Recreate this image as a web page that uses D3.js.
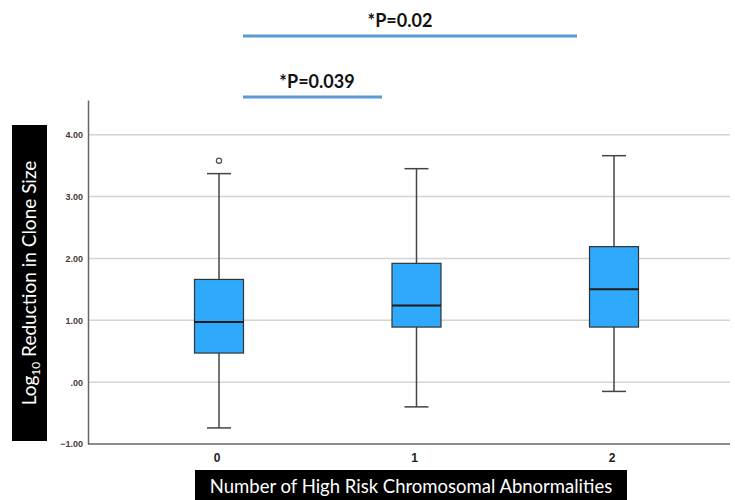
<!DOCTYPE html>
<html>
<head>
<meta charset="utf-8">
<script src="https://cdn.jsdelivr.net/npm/d3@7"></script>
<style>
  body { margin: 0; background: #fff; }
  svg { display: block; }
</style>
</head>
<body>
<div id="chart"></div>
<script>
// data
const categories = ["0", "1", "2"];
const q1 = [0.47, 0.89, 0.89];
const medians = [0.97, 1.24, 1.50];
const q3 = [1.66, 1.92, 2.19];
const whiskerLow = [-0.74, -0.40, -0.15];
const whiskerHigh = [3.37, 3.45, 3.66];
const outliers = [{ cat: "0", value: 3.58 }];
const yTicks = [-1, 0, 1, 2, 3, 4];
const comparisons = [
  { from: "0", to: "2", label: "*P=0.02" },
  { from: "0", to: "1", label: "*P=0.039" }
];

const width = 735, height = 500;
const svg = d3.select("#chart").append("svg")
  .attr("width", width)
  .attr("height", height);

const x = d3.scalePoint().domain(categories).range([219, 614]);
const y = d3.scaleLinear().domain([-1, 4.56]).range([444, 100]);
const axisLeft = 88, axisRight = 730;
const boxW = 49, capW = 24;

// gridlines
svg.append("g")
  .selectAll("line")
  .data(yTicks.filter(d => d > -1))
  .enter().append("line")
  .attr("x1", axisLeft).attr("x2", axisRight)
  .attr("y1", d => y(d)).attr("y2", d => y(d))
  .attr("stroke", "#d4d4d4")
  .attr("stroke-width", 1.5);

// y axis
const yAxis = svg.append("g")
  .attr("transform", `translate(${axisLeft},0)`)
  .call(d3.axisLeft(y).tickValues(yTicks).tickSize(0).tickPadding(5)
    .tickFormat(d => d === 0 ? ".00" : d3.format(".2f")(d)));
yAxis.select(".domain").attr("stroke", "#666").attr("stroke-width", 1.5);
yAxis.selectAll("text")
  .attr("font-family", "Liberation Sans, Arial, sans-serif")
  .attr("font-size", 9)
  .attr("font-weight", "bold")
  .attr("fill", "#4a3a3a");

// x axis line
svg.append("line")
  .attr("x1", axisLeft).attr("x2", axisRight)
  .attr("y1", y(-1)).attr("y2", y(-1))
  .attr("stroke", "#666").attr("stroke-width", 1.5);

// x tick labels
svg.append("g")
  .selectAll("text")
  .data(categories)
  .enter().append("text")
  .attr("x", d => x(d) - 2)
  .attr("y", 462)
  .attr("text-anchor", "middle")
  .attr("font-family", "Liberation Sans, Arial, sans-serif")
  .attr("font-size", 12)
  .attr("font-weight", "bold")
  .attr("fill", "#222")
  .text(d => d);

// boxes
const boxes = categories.map((c, i) => ({
  cat: c, q1: q1[i], med: medians[i], q3: q3[i], lo: whiskerLow[i], hi: whiskerHigh[i]
}));

const g = svg.append("g")
  .selectAll("g")
  .data(boxes)
  .enter().append("g");

g.append("line")
  .attr("x1", d => x(d.cat)).attr("x2", d => x(d.cat))
  .attr("y1", d => y(d.hi)).attr("y2", d => y(d.lo))
  .attr("stroke", "#444").attr("stroke-width", 1.5);

g.append("line")
  .attr("x1", d => x(d.cat) - capW / 2).attr("x2", d => x(d.cat) + capW / 2)
  .attr("y1", d => y(d.hi)).attr("y2", d => y(d.hi))
  .attr("stroke", "#444").attr("stroke-width", 1.5);

g.append("line")
  .attr("x1", d => x(d.cat) - capW / 2).attr("x2", d => x(d.cat) + capW / 2)
  .attr("y1", d => y(d.lo)).attr("y2", d => y(d.lo))
  .attr("stroke", "#444").attr("stroke-width", 1.5);

g.append("rect")
  .attr("x", d => x(d.cat) - boxW / 2)
  .attr("y", d => y(d.q3))
  .attr("width", boxW)
  .attr("height", d => y(d.q1) - y(d.q3))
  .attr("fill", "#2ea9fb")
  .attr("stroke", "#333")
  .attr("stroke-width", 1.2);

g.append("line")
  .attr("x1", d => x(d.cat) - boxW / 2).attr("x2", d => x(d.cat) + boxW / 2)
  .attr("y1", d => y(d.med)).attr("y2", d => y(d.med))
  .attr("stroke", "#1a1a1a").attr("stroke-width", 2);

svg.append("g")
  .selectAll("circle")
  .data(outliers)
  .enter().append("circle")
  .attr("cx", d => x(d.cat))
  .attr("cy", d => y(d.value))
  .attr("r", 2.6)
  .attr("fill", "none")
  .attr("stroke", "#555")
  .attr("stroke-width", 1.3);

// significance bars
const sigY = [36, 97];
const sig = svg.append("g")
  .selectAll("g")
  .data(comparisons)
  .enter().append("g");
sig.append("line")
  .attr("x1", 243)
  .attr("x2", d => d.to === "2" ? 577 : 382)
  .attr("y1", (d, i) => sigY[i]).attr("y2", (d, i) => sigY[i])
  .attr("stroke", "#5b9bd5").attr("stroke-width", 3);
sig.append("text")
  .attr("x", d => d.to === "2" ? 400 : 317)
  .attr("y", (d, i) => sigY[i] - 9)
  .attr("text-anchor", "middle")
  .attr("font-family", "Lato, Carlito, sans-serif")
  .attr("font-size", 18)
  .attr("font-weight", "bold")
  .attr("fill", "#111")
  .text(d => d.label);

// y title box
svg.append("rect")
  .attr("x", 12).attr("y", 125)
  .attr("width", 35).attr("height", 316)
  .attr("fill", "#000");
const yt = svg.append("text")
  .attr("transform", "translate(36,283) rotate(-90)")
  .attr("text-anchor", "middle")
  .attr("font-family", "Lato, Carlito, sans-serif")
  .attr("font-size", 19)
  .attr("fill", "#fff");
yt.append("tspan").text("Log");
yt.append("tspan").attr("font-size", 12).attr("dy", 4).text("10");
yt.append("tspan").attr("dy", -4).text(" Reduction in Clone Size");

// x title box
svg.append("rect")
  .attr("x", 195).attr("y", 470)
  .attr("width", 432).attr("height", 32)
  .attr("fill", "#000");
svg.append("text")
  .attr("x", 411).attr("y", 493)
  .attr("text-anchor", "middle")
  .attr("font-family", "Lato, Carlito, sans-serif")
  .attr("font-size", 18.5)
  .attr("fill", "#fff")
  .text("Number of High Risk Chromosomal Abnormalities");
</script>
</body>
</html>
